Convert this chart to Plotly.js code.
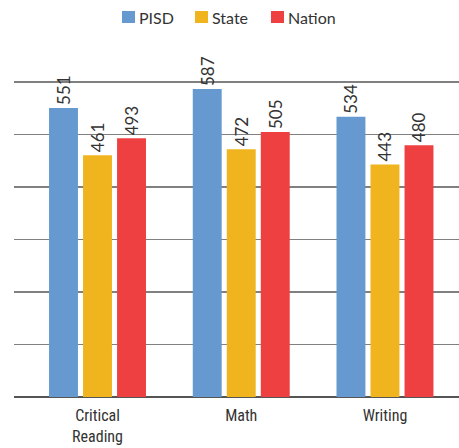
<!DOCTYPE html>
<html>
<head>
<meta charset="utf-8">
<script src="https://cdn.plot.ly/plotly-3.0.1.min.js"></script>
<style>html,body{margin:0;padding:0;background:#fff;}#chart{width:459px;height:448px;}</style>
</head>
<body>
<div id="chart"></div>
<script>
const categories = ["Critical<br>Reading", "Math", "Writing"];
const seriesNames = ["PISD", "State", "Nation"];
const pisd = [551, 587, 534];
const state = [461, 472, 443];
const nation = [493, 505, 480];
const colors = ["#6699CF", "#F0B41F", "#EE4040"];

const values = [pisd, state, nation];
const traces = values.map((v, i) => ({
  type: "bar",
  name: seriesNames[i],
  x: categories,
  y: v,
  text: v.map(String),
  textposition: "outside",
  textangle: -90,
  constraintext: "none",
  cliponaxis: false,
  textfont: {family: "Lato, 'Open Sans', sans-serif", size: 17, color: "#333"},
  marker: {color: colors[i]},
  hoverinfo: "none",
  showlegend: false
}));

// custom legend (plot area: x 14..459, y 35..397 in pixels)
const L = 14, W = 445, T = 35, H = 362;
const px = x => (x - L) / W;
const py = y => (T + H - y) / H;
const legendX = [122, 195, 271];
const shapes = [];
const annotations = [];
seriesNames.forEach((n, i) => {
  shapes.push({type: "rect", xref: "paper", yref: "paper",
    x0: px(legendX[i]), x1: px(legendX[i] + 13), y0: py(23), y1: py(11),
    fillcolor: colors[i], line: {width: 0}});
  annotations.push({xref: "paper", yref: "paper", x: px(legendX[i] + 15), y: py(17.5),
    xanchor: "left", yanchor: "middle", showarrow: false, text: n,
    font: {family: "Lato, 'Open Sans', sans-serif", size: 16, color: "#333"}});
});

const layout = {
  width: 459, height: 448,
  margin: {l: L, r: 0, t: T, b: 448 - T - H},
  paper_bgcolor: "#fff", plot_bgcolor: "#fff",
  barmode: "group",
  bargap: 0.29,
  bargroupgap: 0.15,
  showlegend: false,
  shapes: shapes,
  annotations: annotations,
  xaxis: {
    range: [-0.581, 2.515],
    showgrid: false, zeroline: false, showline: false,
    ticks: "", ticklabelstandoff: 7,
    tickfont: {family: "'Liberation Sans Narrow', 'Roboto Condensed', sans-serif", size: 16, color: "#333"}
  },
  yaxis: {
    range: [0, 690], dtick: 100,
    showticklabels: false,
    showgrid: true, gridcolor: "#808080", gridwidth: 1.5,
    zeroline: true, zerolinecolor: "#555", zerolinewidth: 1.5,
    showline: false, ticks: ""
  },
  font: {family: "Lato, sans-serif", color: "#333"}
};

Plotly.newPlot("chart", traces, layout, {displayModeBar: false, staticPlot: true});
</script>
</body>
</html>
